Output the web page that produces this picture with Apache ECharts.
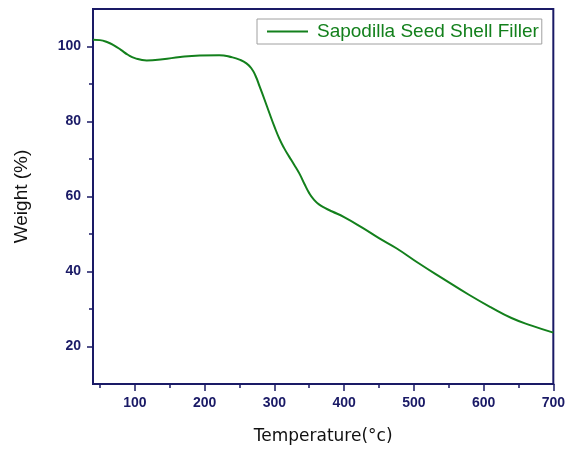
<!DOCTYPE html>
<html>
<head>
<meta charset="utf-8">
<script src="https://cdn.jsdelivr.net/npm/echarts@6/dist/echarts.min.js"></script>
<style>
  html, body { margin: 0; padding: 0; background: #fff; }
  #chart { width: 568px; height: 452px; }
</style>
</head>
<body>
<div id="chart"></div>
<script>
// TGA curve
const temps = [40, 50, 60, 70, 80, 90, 100, 117, 140, 165, 193, 221, 240, 250, 260, 267, 273, 279, 286, 293, 300, 307, 314, 321, 328, 336, 343, 350, 357, 364, 373, 383, 400, 426, 450, 475, 507, 540, 579, 610, 640, 670, 700];
const weights = [101.8, 101.7, 101.2, 100.3, 99.1, 97.8, 96.9, 96.3, 96.6, 97.2, 97.6, 97.7, 97.1, 96.5, 95.5, 94.2, 92.2, 89.3, 85.8, 82.2, 78.7, 75.5, 72.9, 70.7, 68.6, 66.1, 63.4, 60.9, 59.1, 57.9, 56.9, 56.0, 54.5, 51.7, 48.9, 46.2, 42.2, 38.3, 33.8, 30.5, 27.6, 25.5, 23.7];
const xMajor = [100, 200, 300, 400, 500, 600, 700];
const xMinor = [50, 150, 250, 350, 450, 550, 650];
const yMajor = [20, 40, 60, 80, 100];
const yMinor = [30, 50, 70, 90];
const seriesName = 'Sapodilla Seed Shell Filler';

const axisColor = '#1a1a66';
const lineColor = '#13801c';

const myChart = echarts.init(document.getElementById('chart'));

const labelStyle = {
  color: axisColor,
  fontFamily: 'Liberation Sans, Arial, sans-serif',
  fontWeight: 'bold',
  fontSize: 14
};

const option = {
  backgroundColor: '#fff',
  animation: false,
  grid: {
    left: 93,
    top: 9,
    right: 12,
    bottom: 68,
    show: true,
    borderColor: axisColor,
    borderWidth: 2
  },
  legend: {
    left: 257,
    top: 19,
    data: [seriesName],
    icon: 'rect',
    itemWidth: 41,
    itemHeight: 2,
    padding: [3, 3, 3, 10],
    borderColor: '#a0a0a0',
    borderWidth: 1,
    backgroundColor: '#fff',
    textStyle: {
      color: lineColor,
      fontFamily: 'Liberation Sans, Arial, sans-serif',
      fontSize: 19,
      lineHeight: 17,
      padding: [0, 0, 0, 4]
    }
  },
  xAxis: [{
    type: 'value',
    min: 40,
    max: 700,
    name: 'Temperature(°c)',
    nameLocation: 'middle',
    nameGap: 44,
    nameTextStyle: {
      color: '#111',
      fontFamily: 'DejaVu Sans, sans-serif',
      fontSize: 17
    },
    axisLine: { show: true, lineStyle: { color: axisColor, width: 2 } },
    axisTick: { show: true, customValues: xMajor, length: 7, lineStyle: { color: axisColor, width: 1.5 } },
    axisLabel: { ...labelStyle, customValues: xMajor, margin: 12 },
    splitLine: { show: false }
  }, {
    type: 'value',
    min: 40,
    max: 700,
    position: 'bottom',
    axisLine: { show: false },
    axisTick: { show: true, customValues: xMinor, length: 4, lineStyle: { color: axisColor, width: 1.5 } },
    axisLabel: { show: false },
    splitLine: { show: false }
  }],
  yAxis: [{
    type: 'value',
    min: 10,
    max: 110,
    name: 'Weight (%)',
    nameLocation: 'middle',
    nameGap: 62,
    nameTextStyle: {
      color: '#111',
      fontFamily: 'Liberation Sans, Arial, sans-serif',
      fontSize: 19
    },
    axisLine: { show: true, lineStyle: { color: axisColor, width: 2 } },
    axisTick: { show: true, customValues: yMajor, length: 6, lineStyle: { color: axisColor, width: 1.5 } },
    axisLabel: { ...labelStyle, customValues: yMajor, margin: 12 },
    splitLine: { show: false }
  }, {
    type: 'value',
    min: 10,
    max: 110,
    position: 'left',
    axisLine: { show: false },
    axisTick: { show: true, customValues: yMinor, length: 4, lineStyle: { color: axisColor, width: 1.5 } },
    axisLabel: { show: false },
    splitLine: { show: false }
  }],
  series: [{
    name: seriesName,
    type: 'line',
    smooth: 0.5,
    symbol: 'none',
    lineStyle: { color: lineColor, width: 2 },
    itemStyle: { color: lineColor },
    data: temps.map((t, i) => [t, weights[i]])
  }]
};

myChart.setOption(option);
</script>
</body>
</html>
